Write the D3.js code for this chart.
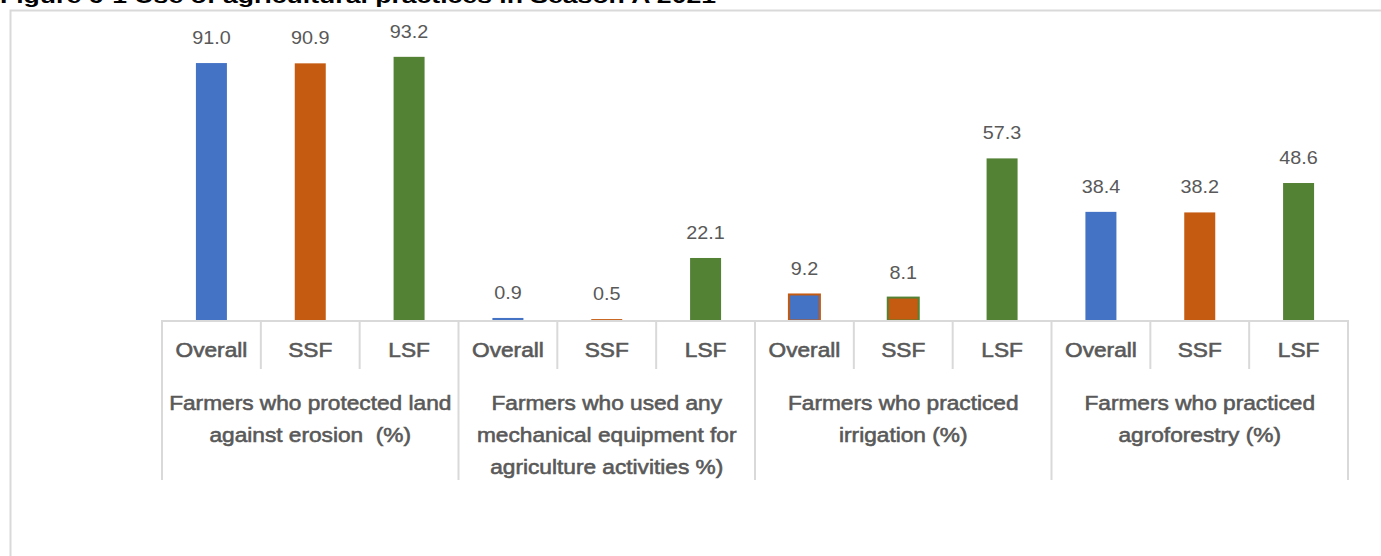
<!DOCTYPE html>
<html>
<head>
<meta charset="utf-8">
<script src="https://cdn.jsdelivr.net/npm/d3@7"></script>
<style>
  html, body { margin: 0; padding: 0; background: #fff; overflow: hidden; }
  text { white-space: pre; }
</style>
</head>
<body>
<div id="chart"></div>
<script>
// data
const titleText = "Figure 6-1 Use of agricultural practices in Season A 2021";
const farmTypes = ["Overall", "SSF", "LSF"];
const groupLabels = [
    ["Farmers who protected land", "against erosion  (%)"],
    ["Farmers who used any", "mechanical equipment for", "agriculture activities %)"],
    ["Farmers who practiced", "irrigation (%)"],
    ["Farmers who practiced", "agroforestry (%)"]
];
const overallValues = [91.0, 0.9, 9.2, 38.4];
const ssfValues = [90.9, 0.5, 8.1, 38.2];
const lsfValues = [93.2, 22.1, 57.3, 48.6];

const width = 1381, height = 556;
const colors = { Overall: "#4472c4", SSF: "#c55a11", LSF: "#548235" };
// odd outlines on the irrigation bars in the original
const outlines = { "2-Overall": "#c55a11", "2-SSF": "#548235" };
const grid = "#d9d9d9";
const textColor = "#595959";

let svg = d3.select("#chart").append("svg")
    .attr("width", width)
    .attr("height", height);

// flatten to one bar per slot
let seriesByType = { Overall: overallValues, SSF: ssfValues, LSF: lsfValues };
let bars = [];
groupLabels.forEach((g, gi) => {
    farmTypes.forEach(t => {
        bars.push({ id: gi + "-" + t, group: gi, type: t, value: seriesByType[t][gi] });
    });
});

let x = d3.scaleBand()
    .domain(bars.map(d => d.id))
    .range([162, 1348]);

let y = d3.scaleLinear()
    .domain([0, 100])
    .range([320.5, 37.6]);

const barWidth = 31;
let cx = d => x(d.id) + x.bandwidth() / 2;

// outer frame (cut off at the right / bottom)
svg.append("path")
    .attr("d", "M10.5,556 V10.5 H1381")
    .attr("fill", "none")
    .attr("stroke", grid)
    .attr("stroke-width", 2);

// title, clipped at the top of the page like in the source
svg.append("text")
    .attr("x", 0)
    .attr("y", 3)
    .attr("font-family", "Liberation Sans, Arial, sans-serif")
    .attr("font-weight", "bold")
    .attr("font-size", 20)
    .attr("textLength", 716)
    .attr("lengthAdjust", "spacingAndGlyphs")
    .attr("fill", "#000")
    .text(titleText);

// bars
svg.append("g")
    .selectAll("rect")
    .data(bars)
    .join("rect")
    .attr("x", d => cx(d) - barWidth / 2)
    .attr("y", d => y(d.value))
    .attr("width", barWidth)
    .attr("height", d => y(0) - y(d.value))
    .attr("fill", d => colors[d.type])
    .attr("stroke", d => outlines[d.id] || "none")
    .attr("stroke-width", 2);

// value labels
svg.append("g")
    .selectAll("g")
    .data(bars)
    .join("g")
    .attr("transform", d => "translate(" + cx(d) + "," + (y(d.value) - 19) + ") scale(1.1,1)")
    .append("text")
    .attr("text-anchor", "middle")
    .attr("font-family", "Liberation Sans, Arial, sans-serif")
    .attr("font-size", 18)
    .attr("fill", textColor)
    .text(d => d3.format(".1f")(d.value));

// category axis: baseline + dividers
let axis = svg.append("g")
    .attr("stroke", grid)
    .attr("stroke-width", 2);

let edges = d3.range(bars.length + 1).map(i => i < bars.length ? x(bars[i].id) : x.range()[1]);
axis.selectAll("line.div")
    .data(edges)
    .join("line")
    .attr("class", "div")
    .attr("x1", d => d).attr("x2", d => d)
    .attr("y1", 321)
    .attr("y2", (d, i) => i % 3 === 0 ? 480 : 369);

axis.append("line")
    .attr("x1", 161).attr("x2", 1349)
    .attr("y1", 321).attr("y2", 321);

// farm type labels
svg.append("g")
    .selectAll("g")
    .data(bars)
    .join("g")
    .attr("transform", d => "translate(" + cx(d) + ",357) scale(1.08,1)")
    .append("text")
    .attr("text-anchor", "middle")
    .attr("font-family", "Liberation Sans, Arial, sans-serif")
    .attr("font-size", 21)
    .attr("fill", textColor)
    .attr("stroke", textColor)
    .attr("stroke-width", 0.6)
    .text(d => d.type);

// group labels
groupLabels.forEach((lines, gi) => {
    let gx = (edges[gi * 3] + edges[gi * 3 + 3]) / 2;
    lines.forEach((line, li) => {
        svg.append("g")
            .attr("transform", "translate(" + gx + "," + (410 + li * 32) + ") scale(1.08,1)")
            .append("text")
            .attr("text-anchor", "middle")
            .attr("font-family", "Liberation Sans, Arial, sans-serif")
            .attr("font-size", 21)
            .attr("fill", textColor)
            .attr("stroke", textColor)
            .attr("stroke-width", 0.6)
            .text(line);
    });
});
</script>
</body>
</html>
